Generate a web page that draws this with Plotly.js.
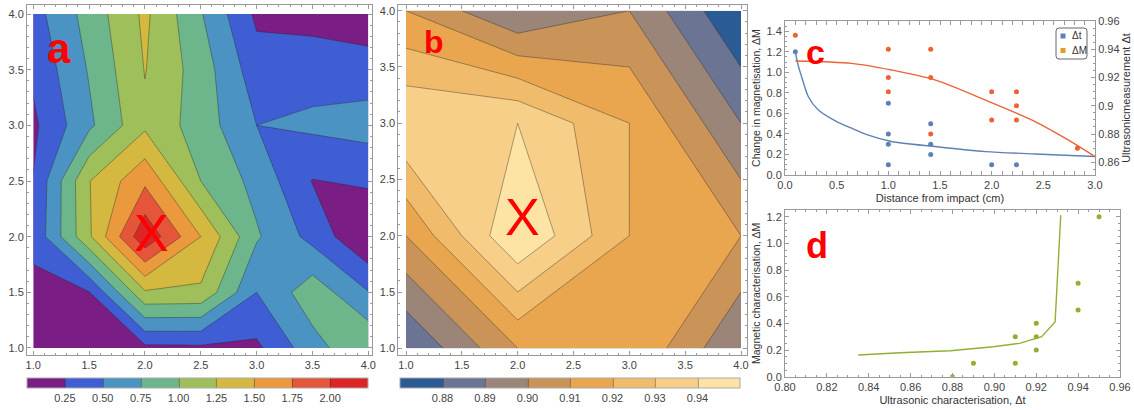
<!DOCTYPE html>
<html><head><meta charset="utf-8">
<script src="https://cdn.plot.ly/plotly-3.0.1.min.js"></script>
<style>html,body{margin:0;padding:0;background:#fff;} #chart{width:1134px;height:410px;}</style>
</head><body><div id="chart"></div>
<script>
// ---------- Panel a : magnetic map (grid 0.5 spacing) ----------
const gridAx = [1, 1.5, 2, 2.5, 3, 3.5, 4];
const gridAy = [1, 1.5, 2, 2.5, 3, 3.5, 4];
const magRowY10 = [0.05, 0.05, 0.19, 0.20, 0.20, 0.65, 0.98];
const magRowY15 = [0.20, 0.24, 1.22, 1.20, 0.50, 0.90, 0.51];
const magRowY20 = [0.30, 1.21, 2.20, 1.50, 0.78, 0.42, 0.00];
const magRowY25 = [0.26, 1.24, 1.70, 1.00, 0.67, 0.24, 0.29];
const magRowY30 = [0.20, 0.70, 1.20, 0.88, 0.50, 0.55, 0.60];
const magRowY35 = [0.30, 0.77, 1.26, 0.88, 0.36, 0.40, 0.38];
const magRowY40 = [0.40, 0.85, 1.30, 0.77, 0.20, 0.15, 0.07];
const magTicks = [0.25, 0.5, 0.75, 1.0, 1.25, 1.5, 1.75, 2.0];
const magTickText = ['0.25','0.50','0.75','1.00','1.25','1.50','1.75','2.00'];
const magColors = ['#7a1d85','#3f5ed3','#4b93c3','#6db68c','#9fbf5b','#d4b840','#ea9a3d','#e5553a','#dc2626'];

// ---------- Panel b : ultrasonic map (grid 1 spacing) ----------
const gridBx = [1, 2, 3, 4];
const gridBy = [1, 2, 3, 4];
const ultRowY1 = [0.88, 0.91, 0.92, 0.89];
const ultRowY2 = [0.91, 0.95, 0.92, 0.91];
const ultRowY3 = [0.94, 0.94, 0.92, 0.89];
const ultRowY4 = [0.91, 0.89, 0.90, 0.87];
const ultTicks = [0.88, 0.89, 0.90, 0.91, 0.92, 0.93, 0.94];
const ultTickText = ['0.88','0.89','0.90','0.91','0.92','0.93','0.94'];
const ultColors = ['#2b5b94','#6b7593','#9b8478','#ca9358','#e9a64f','#f0bb6a','#f7cf88','#fde4a5'];

// ---------- Panel c ----------
const distDt = [0.1, 1, 1, 1, 1, 1.41, 1.41, 1.41, 2, 2.24];
const valDt = [1.2, 0.7, 0.4, 0.3, 0.1, 0.5, 0.3, 0.2, 0.1, 0.1];
const distDM = [0.1, 1, 1, 1, 1.41, 1.41, 1.41, 2, 2, 2.24, 2.24, 2.24, 2.83];
const valDM = [0.95, 0.94, 0.92, 0.91, 0.94, 0.92, 0.88, 0.91, 0.89, 0.91, 0.90, 0.89, 0.87];
const fitDtX = [0.1, 0.13, 0.16, 0.225, 0.32, 0.5, 0.645, 0.8, 1.03, 1.45, 1.94, 2.42, 3.0];
const fitDtY = [1.2, 1.06, 0.96, 0.765, 0.635, 0.52, 0.456, 0.39, 0.326, 0.277, 0.228, 0.205, 0.18];
const fitDMX = [0.1, 0.645, 1.03, 1.45, 1.94, 2.42, 2.74, 3.0];
const fitDMY = [0.9317, 0.930, 0.9253, 0.9183, 0.904, 0.8888, 0.8758, 0.864];
const legendNames = ['Δt', 'ΔM'];

// ---------- Panel d ----------
const corrDt = [0.95, 0.94, 0.94, 0.92, 0.92, 0.92, 0.91, 0.91, 0.89, 0.88];
const corrDM = [1.2, 0.7, 0.5, 0.4, 0.3, 0.2, 0.3, 0.1, 0.1, 0.0];
const corrFitX = [0.835, 0.855, 0.879, 0.8995, 0.912, 0.92, 0.9226, 0.929, 0.9317];
const corrFitY = [0.1625, 0.18, 0.195, 0.225, 0.25, 0.2875, 0.30, 0.41, 1.21];

const blue = '#5e81b5', orange = '#e19c24', red = '#eb6235', green = '#8fb032';
const legendColors = [blue, orange];
const FONT = 'Liberation Sans, Arial, sans-serif';
const W = 1134, H = 410;
const px = v => v / W, py = v => 1 - v / H;

function stepScale(cols){ const n = cols.length - 1; return cols.map((c,i)=>[i/n, c]); }

const traces = [
  { type:'contour', x:gridAx, y:gridAy,
    z:[magRowY10, magRowY15, magRowY20, magRowY25, magRowY30, magRowY35, magRowY40],
    xaxis:'x', yaxis:'y', showlegend:false, zmin:0, zmax:2.25,
    contours:{start:0.25, end:2.0, size:0.25, coloring:'fill'},
    colorscale: stepScale(magColors),
    line:{color:'rgba(40,40,40,0.5)', width:0.8, smoothing:0},
    colorbar:{orientation:'h', x:0.17416, xanchor:'center', y:py(378), yanchor:'top',
      len:341/W, lenmode:'fraction', thickness:10, xpad:0, ypad:0,
      outlinecolor:'#aaa', outlinewidth:1, tickvals:magTicks, ticktext:magTickText,
      tickfont:{size:11, color:'#444', family:FONT}, ticks:''} },
  { type:'contour', x:gridBx, y:gridBy,
    z:[ultRowY1, ultRowY2, ultRowY3, ultRowY4],
    xaxis:'x2', yaxis:'y2', showlegend:false, zmin:0.87, zmax:0.95,
    contours:{start:0.88, end:0.94, size:0.01, coloring:'fill'},
    colorscale: stepScale(ultColors),
    line:{color:'rgba(40,40,40,0.5)', width:0.8, smoothing:0},
    colorbar:{orientation:'h', x:570/W, xanchor:'center', y:py(378), yanchor:'top',
      len:340/W, lenmode:'fraction', thickness:10, xpad:0, ypad:0,
      outlinecolor:'#aaa', outlinewidth:1, tickvals:ultTicks, ticktext:ultTickText,
      tickfont:{size:11, color:'#444', family:FONT}, ticks:''} },
  { type:'scatter', mode:'lines', x:fitDtX, y:fitDtY, xaxis:'x3', yaxis:'y3', showlegend:false,
    line:{color:blue, width:1.4, shape:'spline', smoothing:0.8}, hoverinfo:'skip' },
  { type:'scatter', mode:'lines', x:fitDMX, y:fitDMY, xaxis:'x3', yaxis:'y4', showlegend:false,
    line:{color:red, width:1.4, shape:'spline', smoothing:0.8}, hoverinfo:'skip' },
  { type:'scatter', mode:'markers', x:distDt, y:valDt, xaxis:'x3', yaxis:'y3', showlegend:false, name:legendNames[0],
    marker:{color:blue, size:5} },
  { type:'scatter', mode:'markers', x:distDM, y:valDM, xaxis:'x3', yaxis:'y4', showlegend:false, name:legendNames[1],
    marker:{color:red, size:5} },
  { type:'scatter', mode:'lines', x:corrFitX, y:corrFitY, xaxis:'x4', yaxis:'y5', showlegend:false,
    line:{color:green, width:1.4} },
  { type:'scatter', mode:'markers', x:corrDt, y:corrDM, xaxis:'x4', yaxis:'y5', showlegend:false,
    marker:{color:green, size:5} }
];

function ax(extra){
  return Object.assign({showline:true, linecolor:'#9a9a9a', linewidth:1, mirror:'allticks',
    ticks:'inside', ticklen:4, tickcolor:'#9a9a9a', showgrid:false, zeroline:false,
    tickfont:{size:11, color:'#444', family:FONT},
    minor:{ticks:'inside', ticklen:2, tickcolor:'#9a9a9a'}}, extra);
}

// legend box for panel c (rounded frame, square keys, labels)
const lx0 = 1056, lx1 = 1087, ly0 = 28, ly1 = 59, r = 3;
const legendPath = `M ${px(lx0+r)} ${py(ly0)} L ${px(lx1-r)} ${py(ly0)} Q ${px(lx1)} ${py(ly0)} ${px(lx1)} ${py(ly0+r)} ` +
  `L ${px(lx1)} ${py(ly1-r)} Q ${px(lx1)} ${py(ly1)} ${px(lx1-r)} ${py(ly1)} L ${px(lx0+r)} ${py(ly1)} ` +
  `Q ${px(lx0)} ${py(ly1)} ${px(lx0)} ${py(ly1-r)} L ${px(lx0)} ${py(ly0+r)} Q ${px(lx0)} ${py(ly0)} ${px(lx0+r)} ${py(ly0)} Z`;
const legendRows = [36, 50.5];
const shapes = [{type:'path', xref:'paper', yref:'paper', path:legendPath, line:{color:'#666', width:1}, fillcolor:'#fff', layer:'above'}];
const annotations = [];
legendNames.forEach((nm, i) => {
  const cy = legendRows[i];
  shapes.push({type:'rect', xref:'paper', yref:'paper', x0:px(1060.5), x1:px(1065.5), y0:py(cy+2.5), y1:py(cy-2.5),
    fillcolor:legendColors[i], line:{width:0}, layer:'above'});
  annotations.push({text:nm, xref:'paper', yref:'paper', x:px(1070), y:py(cy), xanchor:'left', yanchor:'middle',
    showarrow:false, font:{size:10, color:'#333', family:FONT}});
});

const labelFont = (s) => ({size:s, color:'#ff0000', family:'Liberation Sans Narrow, Liberation Sans, Arial', weight:'bold'});
annotations.push(
  {text:'a', xref:'paper', yref:'paper', x:px(59), y:py(48), showarrow:false, xanchor:'center', yanchor:'middle', font:labelFont(42)},
  {text:'b', xref:'paper', yref:'paper', x:px(434), y:py(42), showarrow:false, xanchor:'center', yanchor:'middle', font:labelFont(32)},
  {text:'c', xref:'paper', yref:'paper', x:px(815), y:py(52), showarrow:false, xanchor:'center', yanchor:'middle', font:labelFont(34)},
  {text:'d', xref:'paper', yref:'paper', x:px(817), y:py(245), showarrow:false, xanchor:'center', yanchor:'middle', font:labelFont(36)},
  {text:'X', xref:'x', yref:'y', x:2.06, y:2.03, showarrow:false, xanchor:'center', yanchor:'middle',
    font:{size:52, color:'#ff0000', family:'Liberation Sans Narrow, Liberation Sans, Arial'}},
  {text:'X', xref:'x2', yref:'y2', x:2.04, y:2.17, showarrow:false, xanchor:'center', yanchor:'middle',
    font:{size:52, color:'#ff0000', family:'Liberation Sans Narrow, Liberation Sans, Arial'}}
);

const mt = (d) => ({ticks:'inside', ticklen:2, tickcolor:'#9a9a9a', dtick:d});
const layout = {
  width:W, height:H, margin:{l:0, r:0, t:0, b:0},
  paper_bgcolor:'#fff', plot_bgcolor:'#fff', font:{family:FONT, color:'#444'},
  showlegend:false,
  xaxis: ax({domain:[px(27), px(372)], range:[0.944, 4.033], tickvals:[1,1.5,2,2.5,3,3.5,4], tickformat:'.1f', minor:mt(0.1), anchor:'y'}),
  yaxis: ax({domain:[py(355), py(5)], range:[0.937, 4.081], tickvals:[1,1.5,2,2.5,3,3.5,4], tickformat:'.1f', minor:mt(0.1), anchor:'x'}),
  xaxis2: ax({domain:[px(398.3), px(746.7)], range:[0.931, 4.051], tickvals:[1,1.5,2,2.5,3,3.5,4], tickformat:'.1f', minor:mt(0.1), anchor:'y2'}),
  yaxis2: ax({domain:[py(355), py(5)], range:[0.940, 4.051], tickvals:[1,1.5,2,2.5,3,3.5,4], tickformat:'.1f', minor:mt(0.1), anchor:'x2'}),
  xaxis3: ax({domain:[px(785), px(1095)], range:[0, 3], dtick:0.5, tickformat:'.1f', anchor:'y3', minor:mt(0.1),
    title:{text:'Distance from impact (cm)', font:{size:11, color:'#333'}, standoff:4}}),
  yaxis3: ax({domain:[py(175), py(21)], range:[0, 1.5], dtick:0.2, tickformat:'.1f', anchor:'x3', mirror:false, minor:mt(0.05),
    title:{text:'Change in magnetisation, ΔM', font:{size:10.5, color:'#333'}, standoff:3}}),
  yaxis4: ax({overlaying:'y3', side:'right', range:[0.851, 0.96], anchor:'x3', mirror:false,
    tickvals:[0.86,0.88,0.9,0.92,0.94,0.96], ticktext:['0.86','0.88','0.9','0.92','0.94','0.96'], minor:mt(0.005),
    title:{text:'Ultrasonicmeasurement Δt', font:{size:11, color:'#333'}, standoff:3}}),
  xaxis4: ax({domain:[px(785), px(1120)], range:[0.80, 0.96], dtick:0.02, tickformat:'.2f', anchor:'y5', minor:mt(0.005),
    title:{text:'Ultrasonic characterisation, Δt', font:{size:11, color:'#333'}, standoff:4}}),
  yaxis5: ax({domain:[py(376.7), py(210)], range:[0, 1.25], dtick:0.2, tickformat:'.1f', anchor:'x4', minor:mt(0.05),
    title:{text:'Magnetic characterisation, ΔM', font:{size:10.5, color:'#333'}, standoff:3}}),
  shapes: shapes,
  annotations: annotations
};

Plotly.newPlot('chart', traces, layout, {displayModeBar:false, staticPlot:true});
</script></body></html>
